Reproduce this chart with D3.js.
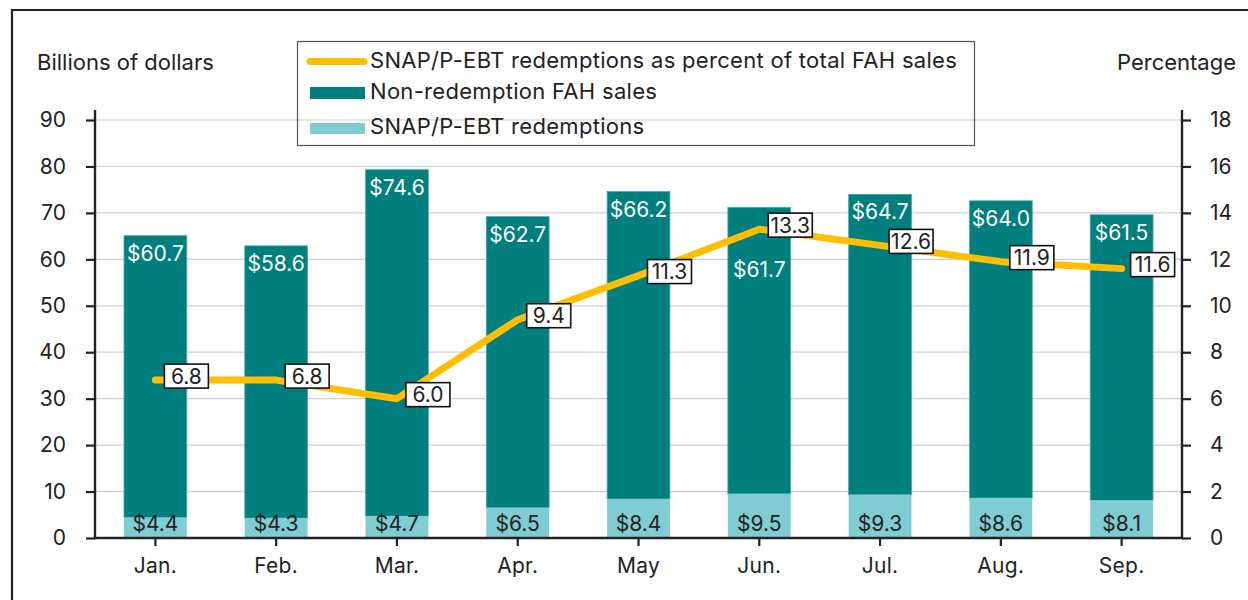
<!DOCTYPE html>
<html><head><meta charset="utf-8">
<script src="https://cdn.jsdelivr.net/npm/d3@7"></script>
<style>
html,body{margin:0;padding:0;background:#fff;}
svg{display:block;font-family:Inter,"Noto Sans",sans-serif;}
</style></head>
<body><svg id="c" width="1248" height="600"></svg>
<script>
const months = ["Jan.","Feb.","Mar.","Apr.","May","Jun.","Jul.","Aug.","Sep."];
const redemptions = [4.4,4.3,4.7,6.5,8.4,9.5,9.3,8.6,8.1];
const nonRedemption = [60.7,58.6,74.6,62.7,66.2,61.7,64.7,64.0,61.5];
const percentShare = [6.8,6.8,6.0,9.4,11.3,13.3,12.6,11.9,11.6];
const leftTicks = [0,10,20,30,40,50,60,70,80,90];
const rightTicks = [0,2,4,6,8,10,12,14,16,18];
const legendLabels = ["SNAP/P-EBT redemptions as percent of total FAH sales","Non-redemption FAH sales","SNAP/P-EBT redemptions"];

const C = {dark:"#007F7E", light:"#80CCD3", gold:"#FFBE00", ink:"#222"};
const svg = d3.select("#c");
const L=95, R=1182, T=120, B=538;
const x = d3.scaleBand().domain(months).range([L,R]).paddingInner(0.48).paddingOuter(0.24);
const y = d3.scaleLinear().domain([0,90]).range([B,T]);
const y2 = d3.scaleLinear().domain([0,18]).range([B,T]);
const FS = 21, FT = 22;

// frame
svg.append("path").attr("d","M12,600V10H1248").attr("fill","none").attr("stroke",C.ink).attr("stroke-width",2.2);

// grid
svg.append("g").selectAll("line").data(leftTicks.filter(d=>d>0)).join("line")
  .attr("x1",L).attr("x2",R).attr("y1",d=>y(d)).attr("y2",d=>y(d))
  .attr("stroke","#cfcfcf").attr("stroke-width",1.2);

// bars
const data = months.map((m,i)=>({m,r:redemptions[i],n:nonRedemption[i],p:percentShare[i]}));
const g = svg.append("g");
g.selectAll("rect.n").data(data).join("rect").attr("class","n")
  .attr("x",d=>x(d.m)).attr("width",x.bandwidth())
  .attr("y",d=>y(d.r+d.n)).attr("height",d=>y(d.r)-y(d.r+d.n)).attr("fill",C.dark)
  .attr("stroke","#4fa9a8").attr("stroke-width",0.8);
g.selectAll("rect.r").data(data).join("rect").attr("class","r")
  .attr("x",d=>x(d.m)).attr("width",x.bandwidth())
  .attr("y",d=>y(d.r)).attr("height",d=>y(0)-y(d.r)).attr("fill",C.light);

// axes
const yAxisL = d3.axisLeft(y).tickValues(leftTicks).tickSize(9).tickPadding(20);
const gl = svg.append("g").attr("transform",`translate(${L},0)`).call(yAxisL);
const yAxisR = d3.axisRight(y2).tickValues(rightTicks).tickSize(9).tickPadding(19);
const gr = svg.append("g").attr("transform",`translate(${R},0)`).call(yAxisR);
const xAxis = d3.axisBottom(x).tickSize(8).tickPadding(12);
const gx = svg.append("g").attr("transform",`translate(0,${B})`).call(xAxis);
[gl,gr,gx].forEach(a=>{
  a.select(".domain").remove();
  a.selectAll(".tick line").attr("stroke",C.ink).attr("stroke-width",2.2);
  a.selectAll("text").attr("font-size",FS).attr("fill",C.ink).attr("font-family","Inter,sans-serif");
});
gx.selectAll("text").attr("dy","0.71em").attr("letter-spacing",0.3);
svg.append("line").attr("x1",L).attr("x2",L).attr("y1",110).attr("y2",B+1).attr("stroke",C.ink).attr("stroke-width",2.4);
svg.append("line").attr("x1",R).attr("x2",R).attr("y1",110).attr("y2",B+1).attr("stroke",C.ink).attr("stroke-width",2.4);
svg.append("line").attr("x1",L-1).attr("x2",R+1).attr("y1",B).attr("y2",B).attr("stroke",C.ink).attr("stroke-width",2.6);

// axis titles
svg.append("text").attr("x",37).attr("y",70).attr("font-size",FT).attr("fill",C.ink).text("Billions of dollars");
svg.append("text").attr("x",1236).attr("y",70).attr("text-anchor","end").attr("font-size",FT).attr("fill",C.ink).text("Percentage");

// line
const cx = d=>x(d.m)+x.bandwidth()/2;
svg.append("path").datum(data)
  .attr("d",d3.line().x(cx).y(d=>y2(d.p)))
  .attr("fill","none").attr("stroke",C.gold).attr("stroke-width",7)
  .attr("stroke-linecap","round").attr("stroke-linejoin","round");

// bar labels
const lab = svg.append("g").attr("font-size",FS);
lab.selectAll("text.n").data(data).join("text").attr("class","n")
  .attr("x",cx).attr("text-anchor","middle").attr("fill","#fff")
  .attr("y",d=>{
    const def = y(d.r+d.n)+25;
    const ly = y2(d.p);
    return Math.abs(def-7-ly)<18 ? ly+48 : def;
  })
  .text(d=>"$"+d.n.toFixed(1));
lab.selectAll("text.r").data(data).join("text").attr("class","r")
  .attr("x",cx).attr("text-anchor","middle").attr("fill",C.ink)
  .attr("y",B-7)
  .text(d=>"$"+d.r.toFixed(1));

// percent labels
const pl = svg.append("g").selectAll("g").data(data).join("g")
  .attr("transform",d=>`translate(${cx(d)+9},${y2(d.p)-4})`);
pl.append("rect").attr("x",0).attr("y",-12).attr("width",44).attr("height",24)
  .attr("fill","#fff").attr("stroke","#111").attr("stroke-width",1.6);
pl.append("text").attr("x",22).attr("y",7.5).attr("text-anchor","middle")
  .attr("font-size",FS).attr("fill",C.ink).text(d=>d.p.toFixed(1));

// legend
const lg = svg.append("g");
lg.append("rect").attr("x",297.5).attr("y",41.5).attr("width",677).attr("height",104)
  .attr("fill","none").attr("stroke","#555").attr("stroke-width",1.2);
lg.append("line").attr("x1",310).attr("x2",364).attr("y1",61.5).attr("y2",61.5)
  .attr("stroke",C.gold).attr("stroke-width",7).attr("stroke-linecap","round");
lg.append("rect").attr("x",310).attr("y",87).attr("width",55).attr("height",12).attr("fill",C.dark);
lg.append("rect").attr("x",310).attr("y",123).attr("width",55).attr("height",11).attr("fill",C.light);
lg.selectAll("text").data(legendLabels).join("text")
  .attr("x",370).attr("y",(d,i)=>[68,99,134][i]).attr("font-size",FT).attr("letter-spacing",0.3)
  .attr("fill",C.ink).text(d=>d);
</script></body></html>
